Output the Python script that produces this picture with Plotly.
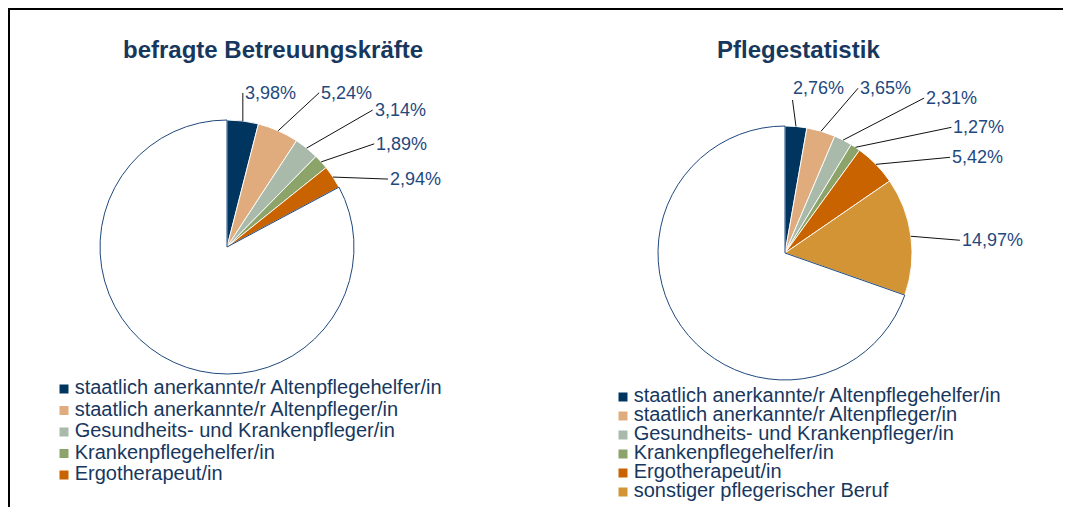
import math
import plotly.graph_objects as go

# ---------------- data ----------------
categories = [
    "staatlich anerkannte/r Altenpflegehelfer/in",
    "staatlich anerkannte/r Altenpfleger/in",
    "Gesundheits- und Krankenpfleger/in",
    "Krankenpflegehelfer/in",
    "Ergotherapeut/in",
    "sonstiger pflegerischer Beruf",
]
left_values = [3.98, 5.24, 3.14, 1.89, 2.94]
right_values = [2.76, 3.65, 2.31, 1.27, 5.42, 14.97]
left_title = "befragte Betreuungskräfte"
right_title = "Pflegestatistik"
rest_label = "übrige"

# ---------------- styles / layout ----------------
W, H = 1071, 507
OFF = 8  # page margin around the figure (screen px)
slice_colors = ["#00355F", "#E0AC7E", "#A9B9AA", "#8CA36A", "#C96300", "#D39436"]
rest_color = "#FFFFFF"
rest_line = "#1F497D"
title_color = "#17375E"
legend_color = "#17375E"
label_color = "#1F497D"
FONT = "Liberation Sans, Arial, sans-serif"

R = 127  # pie radius in px
left_center = (227, 247)   # screen px
right_center = (785, 253)  # screen px

# label text offsets (px) from the slice's rim point
left_offsets = [(0, -28), (41, -38), (66, -38), (53, -18), (55, 2)]
right_offsets = [(-5, -38), (37, -43), (81, -42), (96, -20), (74, -7), (49, 4)]


def px_x(sx):
    return (sx - OFF) / W


def px_y(sy):
    return 1 - (sy - OFF) / H


def pie_domain(c):
    cx, cy = c
    return dict(x=[px_x(cx - R), px_x(cx + R)],
                y=[px_y(cy + R), px_y(cy - R)])


def fmt(v):
    return f"{v:.2f}".replace(".", ",") + "%"


fig = go.Figure()


def add_pie(values, center, offsets):
    n = len(values)
    rest = round(100 - sum(values), 2)
    vals = values + [rest]
    labs = categories[:n] + [rest_label]
    cols = slice_colors[:n] + [rest_color]
    lcols = ["rgba(255,255,255,0.9)"] * n + [rest_line]
    fig.add_trace(go.Pie(
        values=vals, labels=labs, sort=False, direction="clockwise", rotation=0,
        marker=dict(colors=cols, line=dict(color=lcols, width=1)),
        textinfo="none", hoverinfo="label+value", showlegend=False,
        domain=pie_domain(center),
    ))
    total = sum(vals)
    cum = 0.0
    cx, cy = center
    for i, v in enumerate(values):
        mid = (cum + v / 2) / total * 2 * math.pi
        cum += v
        sx = cx + R * math.sin(mid)
        sy = cy - R * math.cos(mid)
        dx, dy = offsets[i]
        fig.add_annotation(
            x=px_x(sx), y=px_y(sy), xref="paper", yref="paper",
            text=fmt(v), showarrow=True, arrowhead=0, arrowwidth=1,
            arrowcolor="#111111", ax=dx, ay=dy, axref="pixel", ayref="pixel",
            xanchor="left", yanchor="middle", standoff=0, startstandoff=0,
            font=dict(family=FONT, size=18, color=label_color),
        )


add_pie(left_values, left_center, left_offsets)
add_pie(right_values, right_center, right_offsets)


# ---------------- legends (drawn as scatter on hidden axes) ----------------
def add_legend(n, xaxis, yaxis):
    fig.add_trace(go.Scatter(
        x=[0] * n, y=list(range(n)), mode="markers+text",
        text=["\u2009" + c for c in categories[:n]], textposition="middle right",
        textfont=dict(family=FONT, size=20, color=legend_color),
        marker=dict(symbol="square", size=9, color=slice_colors[:n], line=dict(width=0)),
        xaxis=xaxis, yaxis=yaxis, showlegend=False, cliponaxis=False, hoverinfo="skip",
    ))


add_legend(5, "x", "y")
add_legend(6, "x2", "y2")

hidden = dict(visible=False, showgrid=False, zeroline=False, fixedrange=True)
fig.update_layout(
    xaxis=dict(domain=[px_x(64), 0.5], range=[0, 1], **hidden),
    yaxis=dict(domain=[px_y(485.75), px_y(378.25)], range=[4.5, -0.5], **hidden),
    xaxis2=dict(domain=[px_x(623), 0.99], range=[0, 1], anchor="y2", **hidden),
    yaxis2=dict(domain=[px_y(501.5), px_y(387.5)], range=[5.5, -0.5], anchor="x2", **hidden),
)

# titles
for tx, ttl in [(273, left_title), (798, right_title)]:
    fig.add_annotation(x=px_x(tx), y=px_y(50), xref="paper", yref="paper", text=f"<b>{ttl}</b>",
                       showarrow=False, xanchor="center", yanchor="middle",
                       font=dict(family=FONT, size=24, color=title_color))

# frame (left and top edges)
fig.add_shape(type="line", xref="paper", yref="paper", x0=1 / W, x1=1 / W, y0=0, y1=1 - 1 / H,
              line=dict(color="black", width=2))
fig.add_shape(type="line", xref="paper", yref="paper", x0=0, x1=1, y0=1 - 1 / H, y1=1 - 1 / H,
              line=dict(color="black", width=2))

fig.update_layout(
    width=W, height=H, margin=dict(l=0, r=0, t=0, b=0),
    paper_bgcolor="white", plot_bgcolor="white", showlegend=False,
)

fig.write_html("out.html")
